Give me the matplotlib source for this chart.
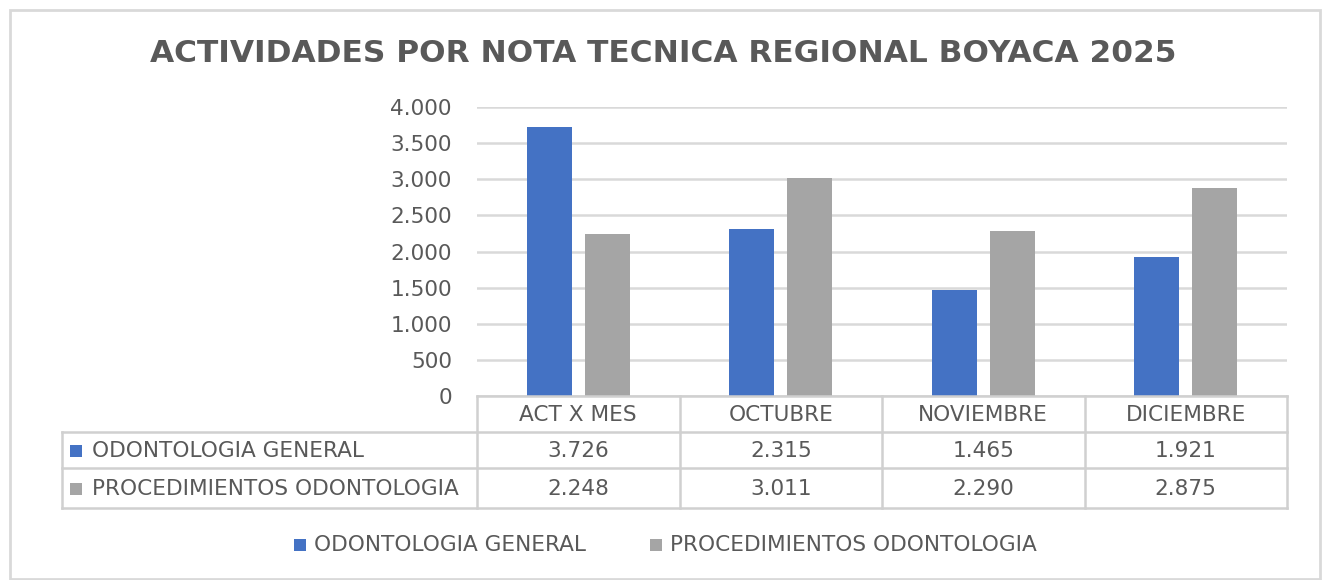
import matplotlib
matplotlib.use("Agg")
import matplotlib.pyplot as plt
from matplotlib.lines import Line2D
from matplotlib.patches import Rectangle

categories = ["ACT X MES", "OCTUBRE", "NOVIEMBRE", "DICIEMBRE"]
series_names = ["ODONTOLOGIA GENERAL", "PROCEDIMIENTOS ODONTOLOGIA"]
odontologia_general = [3726, 2315, 1465, 1921]
procedimientos = [2248, 3011, 2290, 2875]
y_ticks = [0, 500, 1000, 1500, 2000, 2500, 3000, 3500, 4000]
title = "ACTIVIDADES POR NOTA TECNICA REGIONAL BOYACA 2025"

colors = ["#4472C4", "#A5A5A5"]
text_color = "#595959"
grid_color = "#D9D9D9"
line_color = "#D0D0D0"
FS = 15.6

W, H = 1322, 580
plt.rcParams['font.family'] = ['DejaVu Sans']
fig = plt.figure(figsize=(W / 100, H / 100), dpi=100)


def fx(px):
    return px / W


def fy(py):
    return 1 - py / H


# outer frame
fig.add_artist(Rectangle((fx(10), fy(579)), fx(1310), 569 / H, transform=fig.transFigure,
                         fill=False, edgecolor="#D9D9D9", linewidth=2))

# plot area
x_left, x_right = 477, 1287
y_top, y_bot = 107, 396
ax = fig.add_axes([fx(x_left), fy(y_bot), fx(x_right - x_left), (y_bot - y_top) / H])


def fmt(v):
    return f"{v:,}".replace(",", ".")


n = len(categories)
xs = list(range(n))
width = 0.222
off = 0.143
ax.bar([x - off for x in xs], odontologia_general, width, color=colors[0], zorder=3)
ax.bar([x + off for x in xs], procedimientos, width, color=colors[1], zorder=3)
ax.set_xlim(-0.5, n - 0.5)
ax.set_ylim(0, 4000)
ax.set_yticks(y_ticks)
ax.set_yticklabels([fmt(v) for v in y_ticks], color=text_color, fontsize=FS)
ax.tick_params(axis='y', length=0, pad=18)
ax.set_xticks([])
ax.yaxis.grid(True, color=grid_color, linewidth=1.8, zorder=0)
ax.set_axisbelow(True)
for s in ax.spines.values():
    s.set_visible(False)

# title
fig.text(fx(663), fy(54), title, ha='center', va='center', fontsize=22.5,
         fontweight='bold', color=text_color)

# data table
col_edges = [x_left + i * (x_right - x_left) / n for i in range(n + 1)]
row_edges = [396, 432, 468, 508]
tab_left = 62
lw = 1.8


def hline(y, x0, x1):
    fig.add_artist(Line2D([fx(x0), fx(x1)], [fy(y), fy(y)], transform=fig.transFigure,
                          color=line_color, linewidth=lw))


def vline(x, y0, y1):
    fig.add_artist(Line2D([fx(x), fx(x)], [fy(y0), fy(y1)], transform=fig.transFigure,
                          color=line_color, linewidth=lw))


hline(row_edges[0], x_left, x_right)
for y in row_edges[1:]:
    hline(y, tab_left, x_right)
vline(tab_left, row_edges[1], row_edges[3])
for x in col_edges:
    vline(x, row_edges[0], row_edges[3])

for i, c in enumerate(categories):
    cx = (col_edges[i] + col_edges[i + 1]) / 2
    fig.text(fx(cx), fy((row_edges[0] + row_edges[1]) / 2 + 1), c, ha='center', va='center',
             fontsize=FS, color=text_color)
    for r, vals in enumerate([odontologia_general, procedimientos]):
        cy = (row_edges[r + 1] + row_edges[r + 2]) / 2 + 1
        fig.text(fx(cx), fy(cy), fmt(vals[i]), ha='center', va='center',
                 fontsize=FS, color=text_color)

for r, name in enumerate(series_names):
    cy = (row_edges[r + 1] + row_edges[r + 2]) / 2 + 1
    fig.add_artist(Rectangle((fx(70), fy(cy + 6)), 12 / W, 12 / H, transform=fig.transFigure,
                             color=colors[r], linewidth=0))
    fig.text(fx(92), fy(cy), name, ha='left', va='center', fontsize=FS, color=text_color)

# legend
leg_y = 545
leg_x = [294, 650]
for r, name in enumerate(series_names):
    fig.add_artist(Rectangle((fx(leg_x[r]), fy(leg_y + 6)), 12 / W, 12 / H,
                             transform=fig.transFigure, color=colors[r], linewidth=0))
    fig.text(fx(leg_x[r] + 20), fy(leg_y), name, ha='left', va='center', fontsize=FS,
             color=text_color)

fig.savefig("out.png", dpi=100)
